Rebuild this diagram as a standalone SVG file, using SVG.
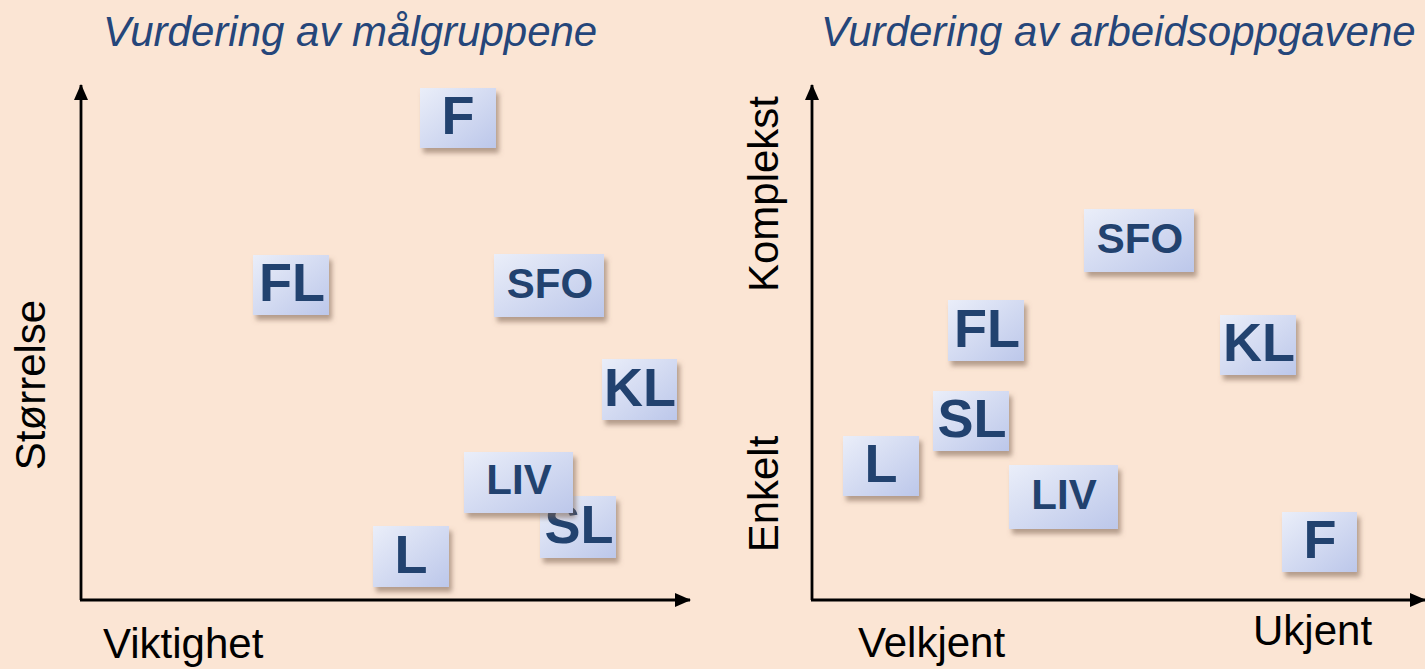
<svg xmlns="http://www.w3.org/2000/svg" width="1425" height="669" viewBox="0 0 1425 669">
<defs>
<style>
.title{font-family:"Liberation Sans",Arial,sans-serif;font-style:italic;font-size:42px;fill:#25467A}
.axl{font-family:"Liberation Sans",Arial,sans-serif;font-size:42px;fill:#000}
.box{fill:url(#g);filter:url(#sh)}
.big{font-family:"Liberation Sans",Arial,sans-serif;font-weight:bold;font-size:54px;fill:#22426F;text-anchor:middle}
.sm{font-family:"Liberation Sans",Arial,sans-serif;font-weight:bold;font-size:42px;fill:#22426F;text-anchor:middle}
.ax{stroke:#000;stroke-width:2.8;fill:none;marker-end:url(#arr)}
</style>
<linearGradient id="g" x1="0" y1="0" x2="1" y2="1">
<stop offset="0" stop-color="#EAEEF9"/>
<stop offset="1" stop-color="#BCC7EA"/>
</linearGradient>
<filter id="sh" x="-20%" y="-20%" width="150%" height="160%">
<feGaussianBlur in="SourceAlpha" stdDeviation="2.5"/>
<feOffset dx="3" dy="5" result="b"/>
<feFlood flood-color="#7a6050" flood-opacity="0.55"/>
<feComposite in2="b" operator="in"/>
<feMerge><feMergeNode/><feMergeNode in="SourceGraphic"/></feMerge>
</filter>
<marker id="arr" viewBox="0 0 16 14" refX="15" refY="7" markerWidth="16" markerHeight="14" markerUnits="userSpaceOnUse" orient="auto">
<path d="M0,0 L16,7 L0,14 z" fill="#000"/>
</marker>
</defs>
<rect width="1425" height="669" fill="#FBE5D4"/>
<text class="title" x="103" y="46">Vurdering av målgruppene</text>
<text class="title" x="821" y="46">Vurdering av arbeidsoppgavene</text>
<g id="connectors">
<line class="ax" x1="81" y1="600" x2="81" y2="85"/>
<line class="ax" x1="80" y1="600" x2="690" y2="600"/>
<line class="ax" x1="812" y1="600" x2="812" y2="85"/>
<line class="ax" x1="811" y1="600" x2="1425" y2="600"/>
</g>
<g id="labels">
<text class="axl" x="103" y="658">Viktighet</text>
<text class="axl" x="858" y="657">Velkjent</text>
<text class="axl" x="1253" y="645">Ukjent</text>
<text class="axl" text-anchor="middle" transform="translate(45,385) rotate(-90)">Størrelse</text>
<text class="axl" text-anchor="middle" transform="translate(778,194) rotate(-90)">Komplekst</text>
<text class="axl" text-anchor="middle" transform="translate(778,494) rotate(-90)">Enkelt</text>
</g>
<g id="L-F"><rect class="box" x="420" y="88" width="76" height="60"/><text class="big" x="458" y="134">F</text></g>
<g id="L-FL"><rect class="box" x="253" y="255" width="76" height="60"/><text class="big" x="292" y="301">FL</text></g>
<g id="L-SFO"><rect class="box" x="494" y="254" width="110" height="63"/><text class="sm" x="550" y="298">SFO</text></g>
<g id="L-KL"><rect class="box" x="602" y="359" width="75" height="61"/><text class="big" x="640" y="406">KL</text></g>
<g id="L-SL"><rect class="box" x="540" y="496" width="76" height="62"/><text class="big" x="579" y="543">SL</text></g>
<g id="L-LIV"><rect class="box" x="464" y="452" width="109" height="61"/><text class="sm" x="519" y="494">LIV</text></g>
<g id="L-L"><rect class="box" x="373" y="526" width="76" height="61"/><text class="big" x="411" y="573">L</text></g>
<g id="R-SFO"><rect class="box" x="1084" y="209" width="110" height="63"/><text class="sm" x="1140" y="253">SFO</text></g>
<g id="R-FL"><rect class="box" x="948" y="300" width="76" height="61"/><text class="big" x="987" y="347">FL</text></g>
<g id="R-KL"><rect class="box" x="1220" y="315" width="76" height="60"/><text class="big" x="1259" y="361">KL</text></g>
<g id="R-SL"><rect class="box" x="933" y="391" width="76" height="60"/><text class="big" x="972" y="437">SL</text></g>
<g id="R-L"><rect class="box" x="843" y="436" width="76" height="60"/><text class="big" x="881" y="482">L</text></g>
<g id="R-LIV"><rect class="box" x="1009" y="465" width="109" height="64"/><text class="sm" x="1064" y="509">LIV</text></g>
<g id="R-F"><rect class="box" x="1282" y="512" width="75" height="60"/><text class="big" x="1320" y="558">F</text></g>
</svg>
